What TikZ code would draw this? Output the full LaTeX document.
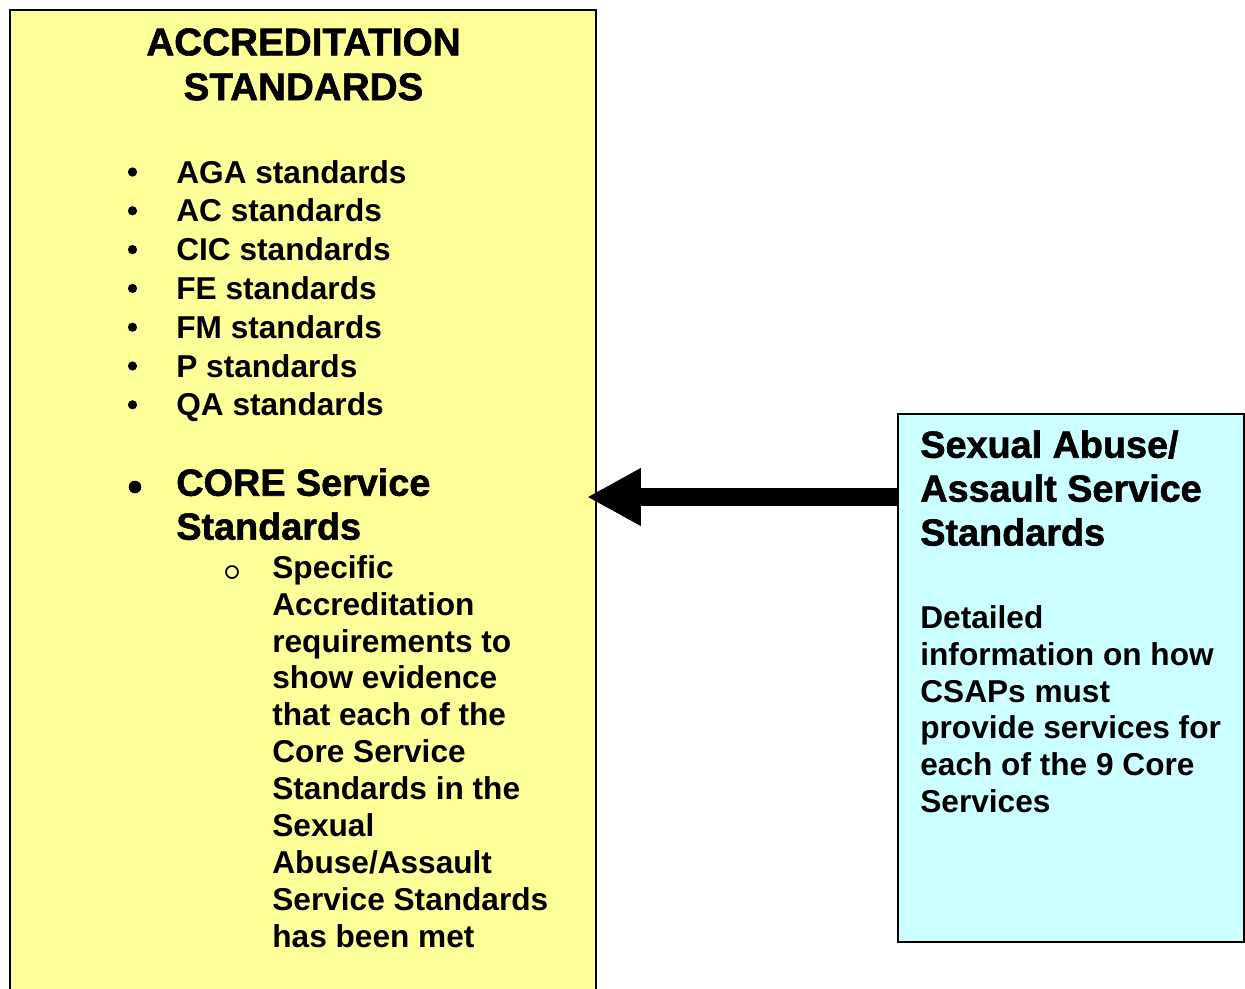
\documentclass[tikz,border=0pt]{standalone}
\usepackage{fontspec}
\setmainfont{Liberation Sans}
\newfontfamily\gruesa[FakeBold=1.5]{Liberation Sans Bold}
\usetikzlibrary{arrows.meta}
\definecolor{Amarillo}{HTML}{FFFF99}
\definecolor{Celeste}{HTML}{CCFFFF}

\begin{document}
\begin{tikzpicture}[x=0.02cm,y=-0.02cm,
  caja/.style={draw=black,line width=1.2pt,inner sep=0pt},
  texto/.style={inner sep=0pt,align=left,font=\bfseries\fontsize{18}{21}\selectfont},
  cabeza/.style={inner sep=0pt,font=\gruesa\fontsize{21.5}{25}\selectfont}]
\useasboundingbox (0,0) rectangle (1245,988);
\clip (0,0) rectangle (1245,988);
% the two boxes
\node[caja,fill=Amarillo,minimum width=11.72cm,minimum height=20cm] (acred) at (303,510) {};
\node[caja,fill=Celeste,minimum width=6.92cm,minimum height=10.56cm] (sasa) at (1071,678) {};
% left box
\node[cabeza,align=center,anchor=north,font=\gruesa\fontsize{22}{25.5}\selectfont] (titulo) at (303.5,28) {ACCREDITATION\\STANDARDS};
\foreach \sigla [count=\i from 0] in {AGA,AC,CIC,FE,FM,P,QA}{
  \fill (132.5,{172+38.8*\i}) circle[radius=4.6];
  \node[texto,anchor=base west] (std\i) at (176,{183+38.8*\i}) {\sigla\ standards};
}
\fill (135,487) circle[radius=6.3];
\node[cabeza,align=left,anchor=north west] (core) at (176,468) {CORE Service\\Standards};
\draw[line width=1pt] (232,572) circle[radius=6];
\node[texto,anchor=north west] (detalle) at (272,555) {Specific\\Accreditation\\requirements to\\show evidence\\that each of the\\Core Service\\Standards in the\\Sexual\\Abuse/Assault\\Service Standards\\has been met};
% right box
\node[cabeza,align=left,anchor=north west] (sasatit) at (920,430) {Sexual Abuse/\\Assault Service\\Standards};
\node[texto,anchor=north west] (sasatxt) at (920,605) {Detailed\\information on how\\CSAPs must\\provide services for\\each of the 9 Core\\Services};
% arrow
\coordinate (punta) at (587,497);
\draw[line width=10.2pt,-{Triangle[length=30.7pt,width=30.7pt]}] (sasa.west |- punta) -- (punta);
\end{tikzpicture}
\end{document}
